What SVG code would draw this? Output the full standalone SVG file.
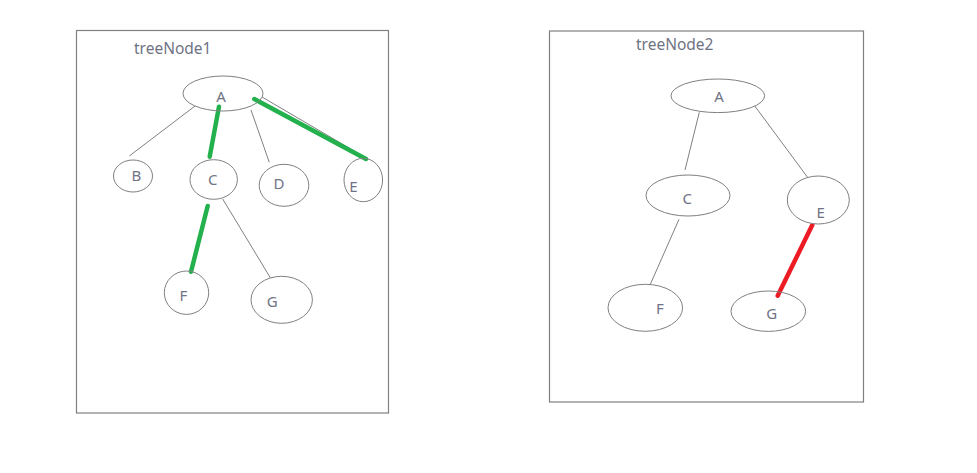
<svg xmlns="http://www.w3.org/2000/svg" width="977" height="473" viewBox="0 0 977 473">
<style>
.frame{fill:none;stroke:#808080;stroke-width:1.2}
.node ellipse{fill:#fff;stroke:#808080;stroke-width:1}
text{font-family:"Noto Sans","Open Sans",sans-serif;font-size:15px;fill:#6f7384;text-anchor:middle;dominant-baseline:central}
.title{text-anchor:start;font-size:15.5px;dominant-baseline:auto}
.thin{stroke:#808080;stroke-width:1;fill:none}
.green{stroke:#22b14c;stroke-width:4.5;stroke-linecap:round}
.red{stroke:#ed1c24;stroke-width:4.5;stroke-linecap:round}
</style>
<rect width="977" height="473" fill="#fff"/>
<rect class="frame" x="76.5" y="30.5" width="312" height="382.5"/>
<rect class="frame" x="549.5" y="31" width="314" height="371"/>
<text class="title" x="134" y="54">treeNode1</text>
<text class="title" x="636" y="50">treeNode2</text>
<g id="connectors">
<line class="thin" x1="195" y1="106" x2="129.3" y2="156"/>
<line class="thin" x1="251" y1="110" x2="269.3" y2="162.3"/>
<line class="thin" x1="262" y1="97" x2="366.7" y2="158.3"/>
<line class="thin" x1="222.7" y1="199" x2="271.7" y2="280"/>
<line class="green" x1="219" y1="106.7" x2="209.7" y2="156.7"/>
<line class="green" x1="254.3" y1="99" x2="366" y2="159"/>
<line class="green" x1="207.7" y1="206" x2="191" y2="271.7"/>
<line class="thin" x1="699.3" y1="112.3" x2="685" y2="170"/>
<line class="thin" x1="753.3" y1="104" x2="808.3" y2="178.3"/>
<line class="thin" x1="679" y1="219.3" x2="649" y2="287.3"/>
<line class="red" x1="812.3" y1="225" x2="777.7" y2="295.7"/>
</g>
<g id="t1A" class="node"><ellipse cx="223" cy="93.5" rx="40" ry="17.5" fill="none" style="fill:none"/><text x="221" y="95.5">A</text></g>
<g id="t1B" class="node"><ellipse cx="133" cy="176" rx="19.5" ry="16"/><text x="136.5" y="175">B</text></g>
<g id="t1C" class="node"><ellipse cx="213.7" cy="179.5" rx="23.7" ry="19.8"/><text x="212.7" y="179">C</text></g>
<g id="t1D" class="node"><ellipse cx="284" cy="185.3" rx="24.8" ry="21"/><text x="279" y="183.3">D</text></g>
<g id="t1E" class="node"><ellipse cx="363.3" cy="180" rx="19.3" ry="21.7" style="fill:none"/><text x="353.3" y="186">E</text></g>
<g id="t1F" class="node"><ellipse cx="186.5" cy="292.7" rx="22.2" ry="21.7" style="fill:none"/><text x="183.3" y="295">F</text></g>
<g id="t1G" class="node"><ellipse cx="281.7" cy="299.8" rx="30.7" ry="23.5"/><text x="272.3" y="300.7">G</text></g>
<g id="t2A" class="node"><ellipse cx="717.8" cy="95.8" rx="46.8" ry="16.8"/><text x="719" y="95.7">A</text></g>
<g id="t2C" class="node"><ellipse cx="688" cy="195.5" rx="42" ry="20.5"/><text x="687.3" y="198.3">C</text></g>
<g id="t2E" class="node"><ellipse cx="818.3" cy="200" rx="31" ry="24"/><text x="820.7" y="212.3">E</text></g>
<g id="t2F" class="node"><ellipse cx="645.3" cy="307.8" rx="37.3" ry="23.5"/><text x="660" y="308.3">F</text></g>
<g id="t2G" class="node"><ellipse cx="768.3" cy="311.2" rx="37.3" ry="20.2" style="fill:none"/><text x="771.7" y="312.7">G</text></g>
</svg>
